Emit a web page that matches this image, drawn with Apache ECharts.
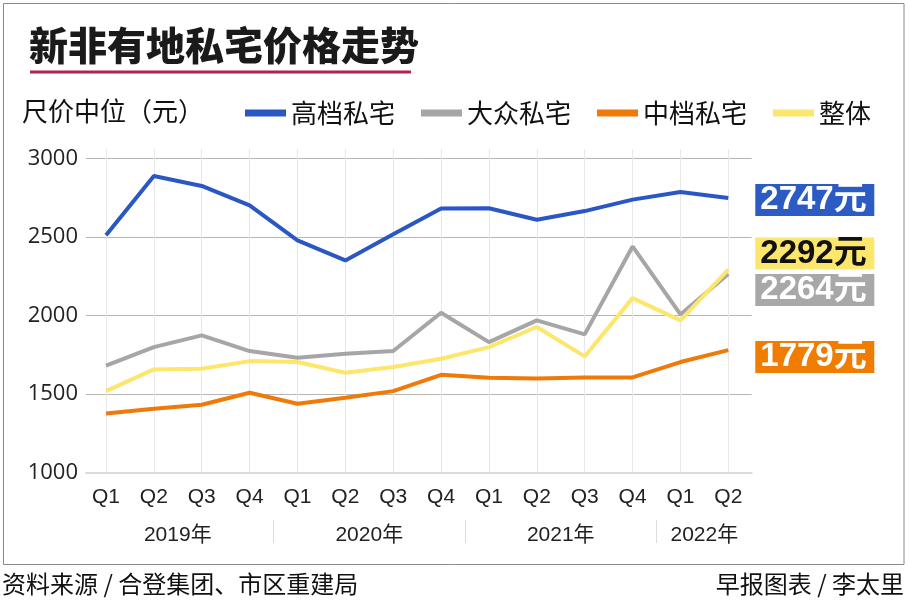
<!DOCTYPE html>
<html>
<head>
<meta charset="utf-8">
<script src="https://cdn.jsdelivr.net/npm/echarts@6/dist/echarts.min.js"></script>
<style>html,body{margin:0;padding:0;background:#fff;}#c{width:909px;height:604px;}</style>
</head>
<body>
<div id="c"></div>
<script>
const quarters = ['Q1','Q2','Q3','Q4','Q1','Q2','Q3','Q4','Q1','Q2','Q3','Q4','Q1','Q2'];
const yearLabels = ['', '2019年', '', '', '', '2020年', '', '', '', '2021年', '', '', '2022年', ''];
const seriesNames = ['高档私宅', '大众私宅', '中档私宅', '整体'];
const highEnd = [2510, 2887, 2824, 2700, 2478, 2350, 2516, 2680, 2682, 2609, 2664, 2737, 2785, 2747];
const massMarket = [1680, 1798, 1873, 1773, 1730, 1756, 1773, 2017, 1830, 1968, 1879, 2439, 2006, 2264];
const midTier = [1376, 1406, 1431, 1508, 1438, 1476, 1518, 1622, 1603, 1599, 1605, 1605, 1703, 1779];
const overall = [1518, 1656, 1660, 1709, 1703, 1635, 1671, 1724, 1798, 1926, 1739, 2110, 1968, 2292];
const yTicks = { min: 1000, max: 3000, interval: 500 };

const colors = ['#2b57c5', '#a6a6a6', '#ef7a0a', '#fde66c'];
const labelBg = ['#2d5bc4', '#a8a8a8', '#f07c00', '#fce76c'];
const labelColor = ['#ffffff', '#ffffff', '#ffffff', '#111111'];
const labelOffset = [2, 16, 7, -16];
const values = [highEnd, massMarket, midTier, overall];

const chart = echarts.init(document.getElementById('c'), null, { renderer: 'canvas' });

const CJK = '"Noto Sans CJK SC", "Noto Sans", sans-serif';
const plotTop = 158.3, plotH = 314.2, plotL = 106, plotW = 622.3;
const step = plotW / 13;

const option = {
  backgroundColor: '#ffffff',
  animation: false,
  legend: {
    data: seriesNames,
    left: 240,
    top: 95,
    icon: 'rect',
    itemWidth: 41,
    itemHeight: 7,
    itemGap: 26,
    textStyle: { fontSize: 26, color: '#111', fontFamily: CJK }
  },
  grid: [
    { left: 86, top: plotTop, width: 665.7, height: plotH },
    { left: plotL, top: 149, width: plotW, height: plotTop + plotH - 149 },
    { left: plotL, top: plotTop, width: plotW, height: plotH },
    { left: plotL - step / 2, top: 520, width: plotW + step, height: 23 }
  ],
  xAxis: [
    { gridIndex: 0, type: 'category', data: quarters, boundaryGap: false,
      axisLine: { show: true, lineStyle: { color: '#dcdcdc', width: 2 } },
      axisTick: { show: false }, axisLabel: { show: false }, splitLine: { show: false } },
    { gridIndex: 1, type: 'category', data: quarters, boundaryGap: false,
      axisLine: { show: false }, axisTick: { show: false }, axisLabel: { show: false },
      splitLine: { show: true, interval: 0, lineStyle: { color: '#e8e8e8', width: 1 } } },
    { gridIndex: 2, type: 'category', data: quarters, boundaryGap: false,
      axisLine: { show: false }, axisTick: { show: false },
      axisLabel: { show: true, interval: 0, margin: 14, fontSize: 21, color: '#222', fontFamily: '"Liberation Sans", Arial, sans-serif' },
      splitLine: { show: false } },
    { gridIndex: 3, type: 'category', data: yearLabels, boundaryGap: true,
      axisLine: { show: false }, axisTick: { show: false },
      axisLabel: { show: true, interval: 0, margin: -8, verticalAlign: 'middle', padding: [0, 0, 0, step],
        fontSize: 21, color: '#222', fontFamily: '"Liberation Sans", Arial, "Noto Sans CJK SC", sans-serif' },
      splitLine: { show: true, interval: function (i) { return i === 4 || i === 8 || i === 12; },
        lineStyle: { color: ['#dddddd', '#dddddd', '#dddddd', 'rgba(0,0,0,0)'], width: 1 } } }
  ],
  yAxis: [
    { gridIndex: 0, type: 'value', min: yTicks.min, max: yTicks.max, interval: yTicks.interval,
      axisLine: { show: false }, axisTick: { show: false },
      axisLabel: { margin: 8, fontSize: 22, color: '#222', fontFamily: '"Open Sans", "Noto Sans", sans-serif',
        formatter: function (v) { return String(v); } },
      splitLine: { show: true, lineStyle: { color: ['#dcdcdc', '#b5b5b5', '#b5b5b5', '#b5b5b5', '#b5b5b5'], width: 1 } } },
    { gridIndex: 1, type: 'value', show: false, splitLine: { show: false } },
    { gridIndex: 2, type: 'value', min: yTicks.min, max: yTicks.max, interval: yTicks.interval, show: false, splitLine: { show: false } },
    { gridIndex: 3, type: 'value', show: false, splitLine: { show: false } }
  ],
  series: seriesNames.map(function (name, i) {
    return {
      name: name,
      type: 'line',
      xAxisIndex: 2,
      yAxisIndex: 2,
      data: values[i],
      symbol: 'none',
      color: colors[i],
      lineStyle: { color: colors[i], width: 4 },
      z: 3 + i,
      endLabel: {
        show: true,
        formatter: function (p) { return p.value + '元'; },
        distance: 27,
        offset: [0, labelOffset[i]],
        backgroundColor: labelBg[i],
        color: labelColor[i],
        fontSize: 33,
        fontWeight: 'bold',
        fontFamily: '"Liberation Sans", Arial, "Noto Sans CJK SC", sans-serif',
        lineHeight: 32,
        height: 32,
        width: 109,
        padding: [0, 5],
        align: 'left',
        verticalAlign: 'middle'
      }
    };
  }),
  graphic: [
    { type: 'rect', silent: true, z: -1,
      shape: { x: 3.5, y: 3.5, width: 900.5, height: 561 },
      style: { fill: 'none', stroke: '#8a8a8a', lineWidth: 1 } },
    { type: 'text', silent: true,
      style: { text: '新非有地私宅价格走势', x: 29, y: 45, textAlign: 'left', textVerticalAlign: 'middle',
        font: '900 39px ' + CJK, fill: '#1a1a1a' } },
    { type: 'rect', silent: true,
      shape: { x: 30, y: 70.5, width: 381, height: 3 },
      style: { fill: '#b3204e' } },
    { type: 'text', silent: true,
      style: { text: '尺价中位（元）', x: 22, y: 111, textAlign: 'left', textVerticalAlign: 'middle',
        font: '26px ' + CJK, fill: '#111' } },
    { type: 'text', silent: true,
      style: { text: '资料来源 / 合登集团、市区重建局', x: 2, y: 584, textAlign: 'left', textVerticalAlign: 'middle',
        font: '24px ' + CJK, fill: '#111' } },
    { type: 'text', silent: true,
      style: { text: '早报图表 / 李太里', x: 904, y: 584, textAlign: 'right', textVerticalAlign: 'middle',
        font: '24px ' + CJK, fill: '#111' } }
  ]
};
chart.setOption(option);
</script>
</body>
</html>
